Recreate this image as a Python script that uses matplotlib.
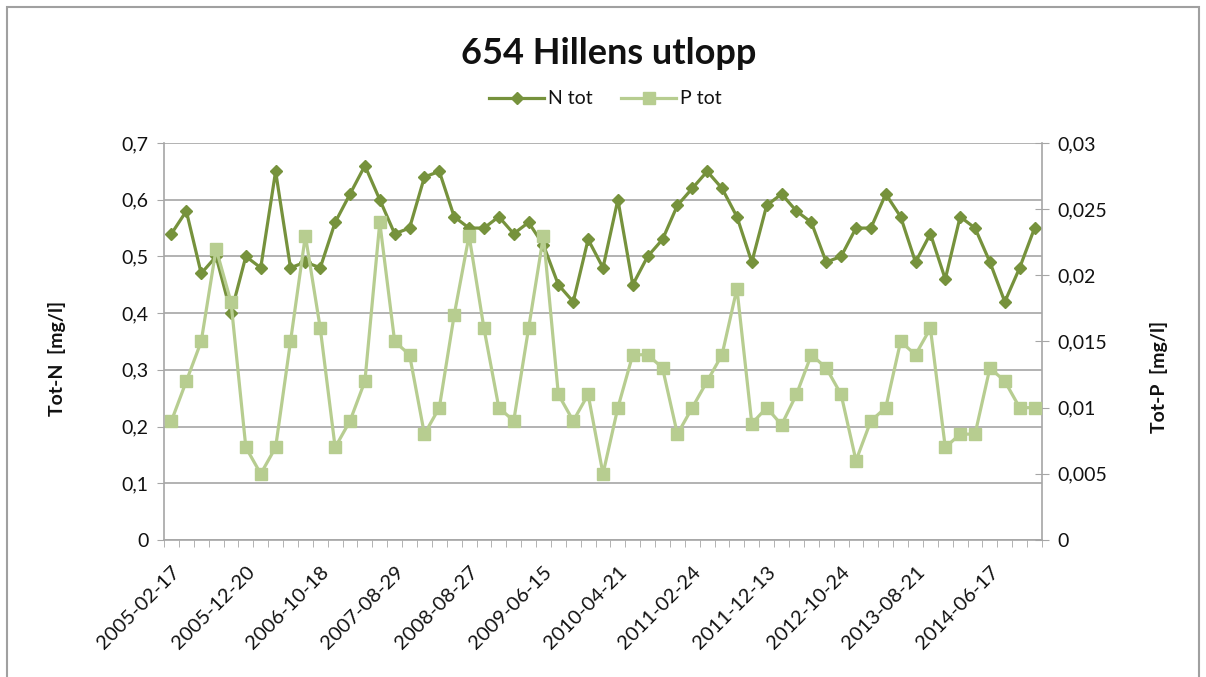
import matplotlib
matplotlib.use("Agg")
import matplotlib.pyplot as plt
from matplotlib.lines import Line2D
from matplotlib.patches import Rectangle
from matplotlib.ticker import FixedLocator, FuncFormatter

plt.rcParams["font.family"] = ["Lato", "DejaVu Sans"]

# Data
date_labels = ["2005-02-17", "2005-12-20", "2006-10-18", "2007-08-29",
               "2008-08-27", "2009-06-15", "2010-04-21", "2011-02-24",
               "2011-12-13", "2012-10-24", "2013-08-21", "2014-06-17"]
label_step = 5

n_tot = [0.54, 0.58, 0.47, 0.50, 0.40, 0.50, 0.48, 0.65, 0.48, 0.49,
         0.48, 0.56, 0.61, 0.66, 0.60, 0.54, 0.55, 0.64, 0.65, 0.57,
         0.55, 0.55, 0.57, 0.54, 0.56, 0.52, 0.45, 0.42, 0.53, 0.48,
         0.60, 0.45, 0.50, 0.53, 0.59, 0.62, 0.65, 0.62, 0.57, 0.49,
         0.59, 0.61, 0.58, 0.56, 0.49, 0.50, 0.55, 0.55, 0.61, 0.57,
         0.49, 0.54, 0.46, 0.57, 0.55, 0.49, 0.42, 0.48, 0.55]

p_tot = [0.009, 0.012, 0.015, 0.022, 0.018, 0.007, 0.005, 0.007, 0.015, 0.023,
         0.016, 0.007, 0.009, 0.012, 0.024, 0.015, 0.014, 0.008, 0.010, 0.017,
         0.023, 0.016, 0.010, 0.009, 0.016, 0.023, 0.011, 0.009, 0.011, 0.005,
         0.010, 0.014, 0.014, 0.013, 0.008, 0.010, 0.012, 0.014, 0.019, 0.0088,
         0.010, 0.0087, 0.011, 0.014, 0.013, 0.011, 0.006, 0.009, 0.010, 0.015,
         0.014, 0.016, 0.007, 0.008, 0.008, 0.013, 0.012, 0.010, 0.010]

N_COLOR = "#76923C"
P_COLOR = "#B7CD90"
GRID = "#A6A6A6"
TXT = "#111111"


def comma_fmt(v, pos):
    v = round(v, 4)
    if v == 0:
        return "0"
    return f"{v:g}".replace(".", ",")


fig = plt.figure(figsize=(12.06, 6.77), dpi=100)
ax = fig.add_axes([164 / 1206, 1 - 540 / 677, 878 / 1206, 397 / 677])
ax2 = ax.twinx()

x = list(range(len(n_tot)))
ax.plot(x, n_tot, color=N_COLOR, lw=2.3, marker="D", ms=6.5, zorder=3)
ax2.plot(x, p_tot, color=P_COLOR, lw=2.3, marker="s", ms=8, zorder=3)

ax.set_xlim(-0.5, len(n_tot) - 0.5)
ax.set_ylim(0, 0.7)
ax2.set_ylim(0, 0.03)

# left axis
ax.yaxis.set_major_locator(FixedLocator([i / 10 for i in range(8)]))
ax.yaxis.set_major_formatter(FuncFormatter(comma_fmt))
ax.grid(axis="y", color=GRID, lw=1.2)
ax.set_axisbelow(True)
ax.tick_params(axis="y", length=5, color=GRID, labelsize=14, pad=6, labelcolor=TXT)

# right axis
ax2.yaxis.set_major_locator(FixedLocator([i * 0.005 for i in range(7)]))
ax2.yaxis.set_major_formatter(FuncFormatter(comma_fmt))
ax2.tick_params(axis="y", direction="inout", length=10, color=GRID, labelsize=14, pad=6, labelcolor=TXT)

# category axis: ticks between categories, labels every 5th
ax.set_xticks([i * label_step for i in range(len(date_labels))])
ax.set_xticklabels(date_labels, rotation=45, ha="right", rotation_mode="anchor")
ax.set_xticks([i - 0.5 for i in range(len(n_tot) + 1)], minor=True)
ax.tick_params(axis="x", which="major", length=0, labelsize=14.5, pad=17, labelcolor=TXT)
ax.tick_params(axis="x", which="minor", length=5, color=GRID)

for a in (ax, ax2):
    a.spines["top"].set_visible(False)
    for side in ("left", "right", "bottom"):
        a.spines[side].set_color(GRID)
        a.spines[side].set_linewidth(1.2)
ax.spines["right"].set_visible(False)
ax2.spines["left"].set_visible(False)
ax2.spines["bottom"].set_visible(False)

ax.set_ylabel("Tot-N  [mg/l]", fontsize=14, fontweight="bold", color=TXT)
ax.yaxis.set_label_coords(-0.112, 0.458)
ax2.set_ylabel("Tot-P  [mg/l]", fontsize=14, fontweight="bold", color=TXT)
ax2.yaxis.set_label_coords(1.123, 0.41)

fig.text(0.505, 1 - 53 / 677, "654 Hillens utlopp", ha="center", va="center",
         fontsize=26, fontweight="bold", color=TXT)

handles = [Line2D([], [], color=N_COLOR, lw=2.3, marker="D", ms=6.5),
           Line2D([], [], color=P_COLOR, lw=2.3, marker="s", ms=8)]
fig.legend(handles, ["N tot", "P tot"], loc="center", bbox_to_anchor=(0.502, 1 - 99 / 677),
           ncol=2, frameon=False, fontsize=14, handlelength=2.8, columnspacing=1.5,
           handletextpad=0.2, labelcolor=TXT)

# outer chart border
fig.patches.append(Rectangle((7 / 1206, -0.05), 1192 / 1206, 1.05 - 7 / 677,
                             transform=fig.transFigure, fill=False,
                             edgecolor="#A0A0A0", lw=1.5))

fig.savefig("out.png", dpi=100)
